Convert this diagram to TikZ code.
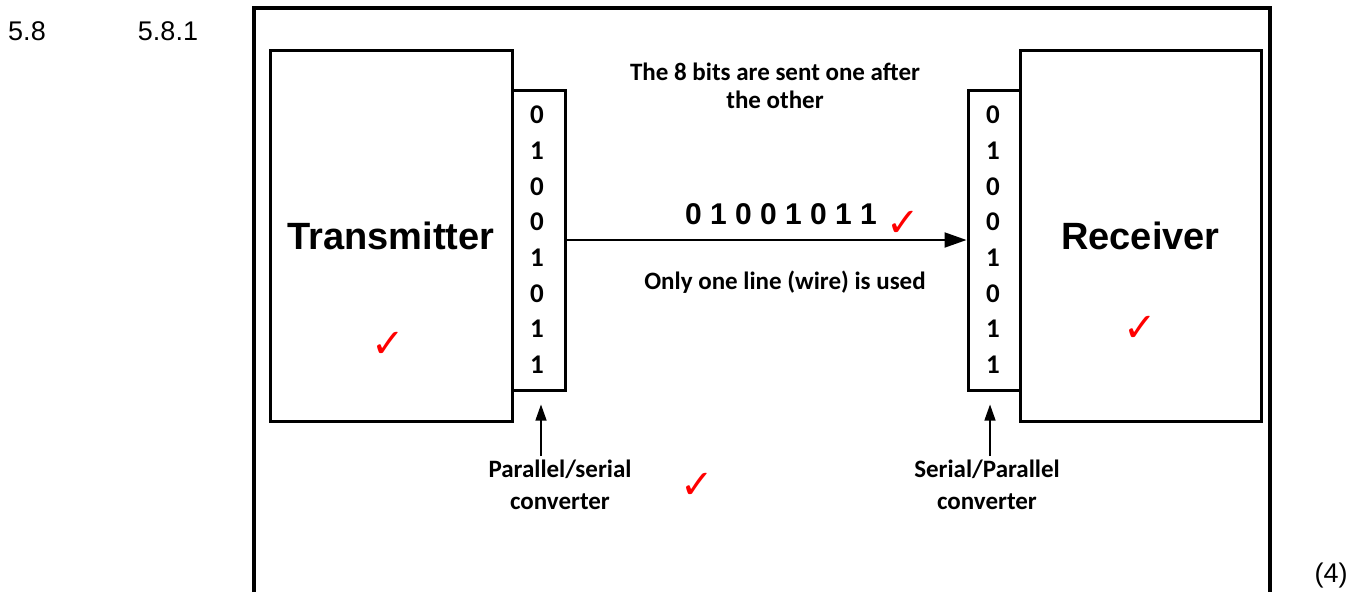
\documentclass[tikz,border=0pt]{standalone}
\usepackage{fontspec}
\setmainfont{Carlito}
\newfontfamily\arialfont{Liberation Sans}
\newfontfamily\tickfont{DejaVu Sans}
\usetikzlibrary{arrows.meta}

\tikzset{
	unitbox/.style={draw, line width=3pt, inner sep=0pt},
	bitlabel/.style={font=\bfseries\fontsize{27}{30}\selectfont},
	note/.style={font=\bfseries\fontsize{25}{28}\selectfont, align=center},
	tick/.style={text=red, font=\tickfont\fontsize{40}{40}\selectfont},
	plain/.style={font=\arialfont\fontsize{27}{30}\selectfont},
}

\begin{document}
\begin{tikzpicture}[x=1pt, y=-1pt]
		\useasboundingbox (0,0) rectangle (1355,592);
		\def\bitStep{35.7} % Distance between the bits in a column
		
		% Frame, open at the bottom
		\draw[line width=4pt] (254,592) -- (254,8) -- (1270,8) -- (1270,592);
		
		% Question numbers and marks
		\node[plain] (qnum) at (27,31) {5.8};
		\node[plain] (subnum) at (168,31) {5.8.1};
		\node[plain] (marks) at (1331,576) {(4)};
		
		% Transmitter and receiver
		\node[unitbox, minimum width=242pt, minimum height=371pt, font=\arialfont\bfseries\fontsize{38}{44}\selectfont] (tx) at (391,235.5) {Transmitter};
		\node[unitbox, minimum width=241pt, minimum height=371pt, font=\arialfont\bfseries\fontsize{38}{44}\selectfont] (rx) at (1140.5,235.5) {Receiver};
		
		% Converters
		\node[unitbox, minimum width=53pt, minimum height=300pt] (ps) at (538.5,240) {};
		\node[unitbox, minimum width=52pt, minimum height=300pt] (sp) at (994,240) {};
		
		% Bits in each converter
		\foreach \b [count=\i] in {0,1,0,0,1,0,1,1} {
			\node[bitlabel] (psbit\i) at (537, {115 + (\i - 1) * \bitStep}) {\b};
			\node[bitlabel] (spbit\i) at (993, {115 + (\i - 1) * \bitStep}) {\b};
		}
		
		% Serial line
		\draw[line width=2pt, -{Triangle[length=22pt, width=15pt]}] (ps.east) -- (sp.west);
		\node[note] (sent) at (775,86) {The 8 bits are sent one after\\the other};
		\node[font=\arialfont\bfseries\fontsize{30}{34}\selectfont] (stream) at (781,214) {0 1 0 0 1 0 1 1};
		\node[note] (wire) at (785,282) {Only one line (wire) is used};
		
		% Converter labels
		\node[note, font=\bfseries\fontsize{25}{32}\selectfont] (pslabel) at (560,485) {Parallel/serial\\converter};
		\node[note, font=\bfseries\fontsize{25}{32}\selectfont] (splabel) at (987,485) {Serial/Parallel\\converter};
		\coordinate (psfoot) at (541,456);
		\coordinate (spfoot) at (990,456);
		\draw[line width=1.3pt, -{Triangle[length=16pt, width=11pt]}, shorten >=13pt] (psfoot) -- (psfoot |- ps.south);
		\draw[line width=1.3pt, -{Triangle[length=16pt, width=11pt]}, shorten >=13pt] (spfoot) -- (spfoot |- sp.south);
		
		% Ticks
		\node[tick] (tick1) at (903,224) {✓};
		\node[tick] (tick2) at (388,345) {✓};
		\node[tick] (tick3) at (1140,329) {✓};
		\node[tick] (tick4) at (697,486) {✓};
	\end{tikzpicture}
\end{document}
